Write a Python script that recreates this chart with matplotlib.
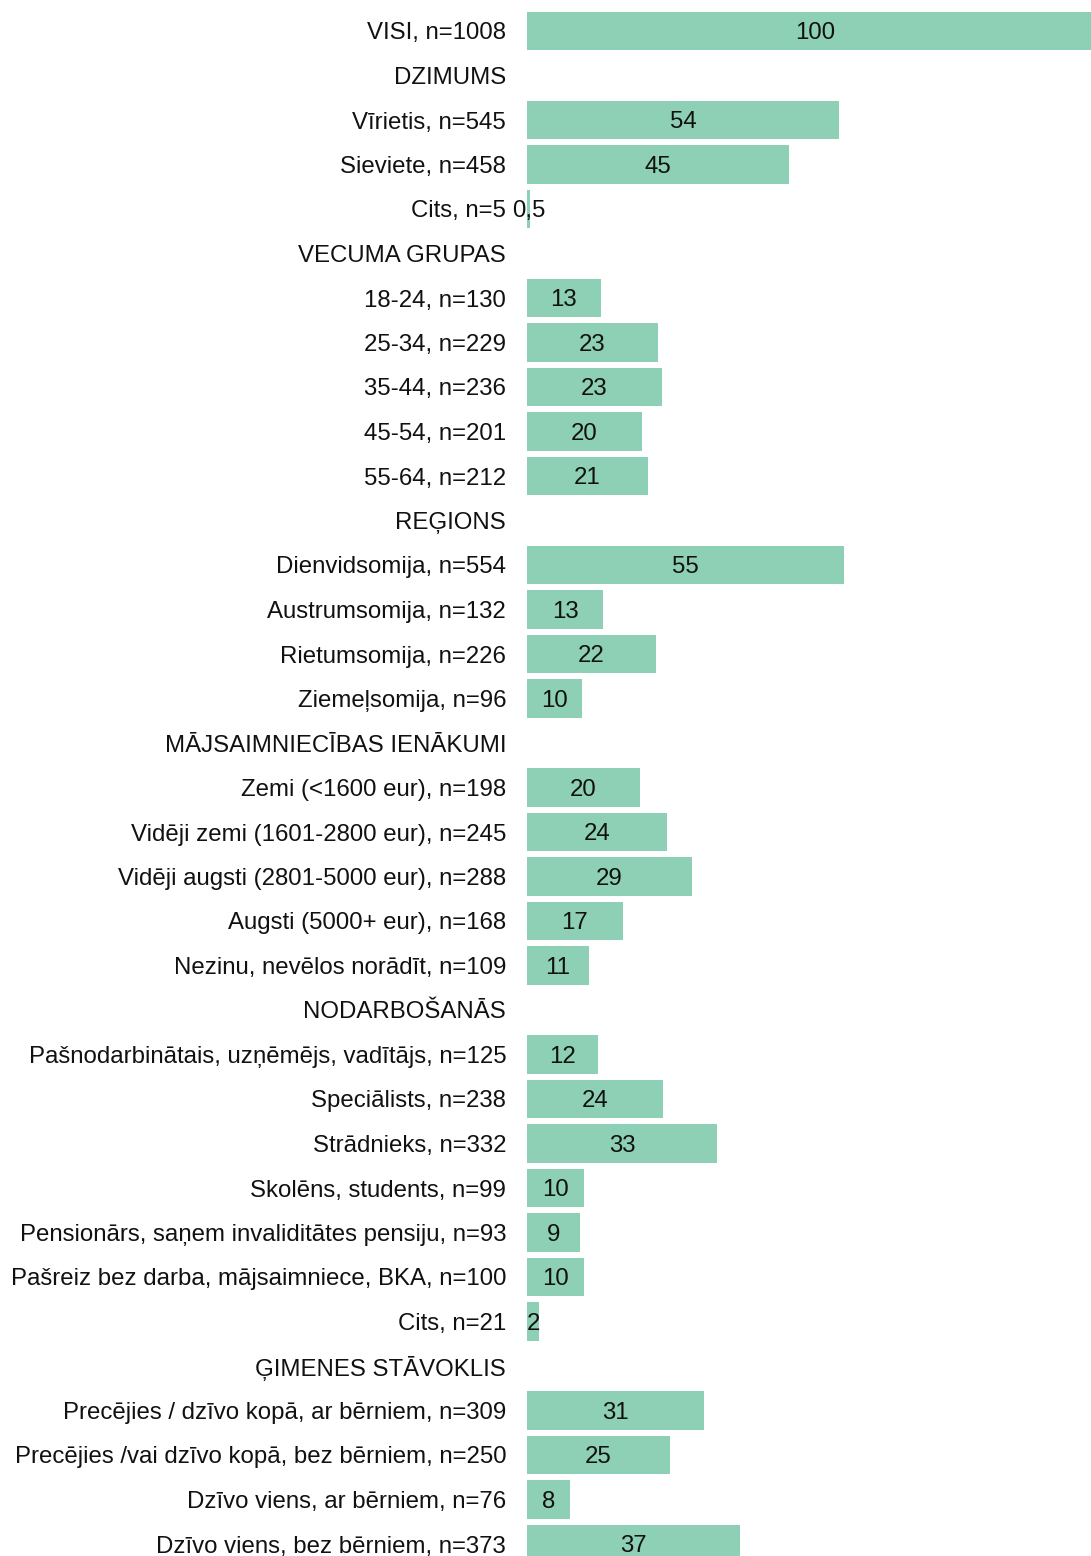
import matplotlib
matplotlib.use("Agg")
import matplotlib.pyplot as plt

plt.rcParams['font.family'] = ['Liberation Sans', 'DejaVu Sans']

labels = [
    "VISI, n=1008", "DZIMUMS", "Vīrietis, n=545", "Sieviete, n=458", "Cits, n=5",
    "VECUMA GRUPAS", "18-24, n=130", "25-34, n=229", "35-44, n=236", "45-54, n=201", "55-64, n=212",
    "REĢIONS", "Dienvidsomija, n=554", "Austrumsomija, n=132", "Rietumsomija, n=226", "Ziemeļsomija, n=96",
    "MĀJSAIMNIECĪBAS IENĀKUMI", "Zemi (<1600 eur), n=198", "Vidēji zemi (1601-2800 eur), n=245",
    "Vidēji augsti (2801-5000 eur), n=288", "Augsti (5000+ eur), n=168", "Nezinu, nevēlos norādīt, n=109",
    "NODARBOŠANĀS", "Pašnodarbinātais, uzņēmējs, vadītājs, n=125", "Speciālists, n=238", "Strādnieks, n=332",
    "Skolēns, students, n=99", "Pensionārs, saņem invaliditātes pensiju, n=93",
    "Pašreiz bez darba, mājsaimniece, BKA, n=100", "Cits, n=21",
    "ĢIMENES STĀVOKLIS", "Precējies / dzīvo kopā, ar bērniem, n=309", "Precējies /vai dzīvo kopā, bez bērniem, n=250",
    "Dzīvo viens, ar bērniem, n=76", "Dzīvo viens, bez bērniem, n=373",
]
values = [
    100, None, 54.1, 45.4, 0.5,
    None, 12.8, 22.7, 23.4, 19.9, 21.0,
    None, 54.9, 13.2, 22.4, 9.5,
    None, 19.6, 24.3, 28.6, 16.6, 10.7,
    None, 12.3, 23.6, 32.9, 9.9, 9.2, 9.9, 2.1,
    None, 30.7, 24.8, 7.5, 36.9,
]

color = "#8dd0b5"
W, H = 1091, 1556
fig = plt.figure(figsize=(W/100, H/100), dpi=100)
n = len(labels)
row_px = 44.5
top_px = 31 - row_px/2
bot_px = 31 + row_px*(n-1) + row_px/2
left_px, right_px = 527, 527 + 577
ax = fig.add_axes([left_px/W, (H - bot_px)/H, (right_px-left_px)/W, (bot_px-top_px)/H])

fs = 17.3
ys = list(range(n))
for y, v in zip(ys, values):
    if v is None:
        continue
    ax.barh(y, v, height=0.855, color=color, left=0)
    txt = f"{v:.1f}".replace(".", ",") if v < 1 else f"{round(v):d}"
    ax.text(v/2, y + 0.05, txt, ha="center", va="center", fontsize=fs, color="#111111")

ax.set_xlim(0, 100)
ax.set_ylim(n - 0.5, -0.5)
ax.set_yticks(ys)
ax.set_yticklabels(labels, fontsize=fs, color="#111111")
ax.tick_params(axis="y", length=0, pad=15)
ax.set_xticks([])
for s in ax.spines.values():
    s.set_visible(False)

fig.savefig("out.png", dpi=100)
